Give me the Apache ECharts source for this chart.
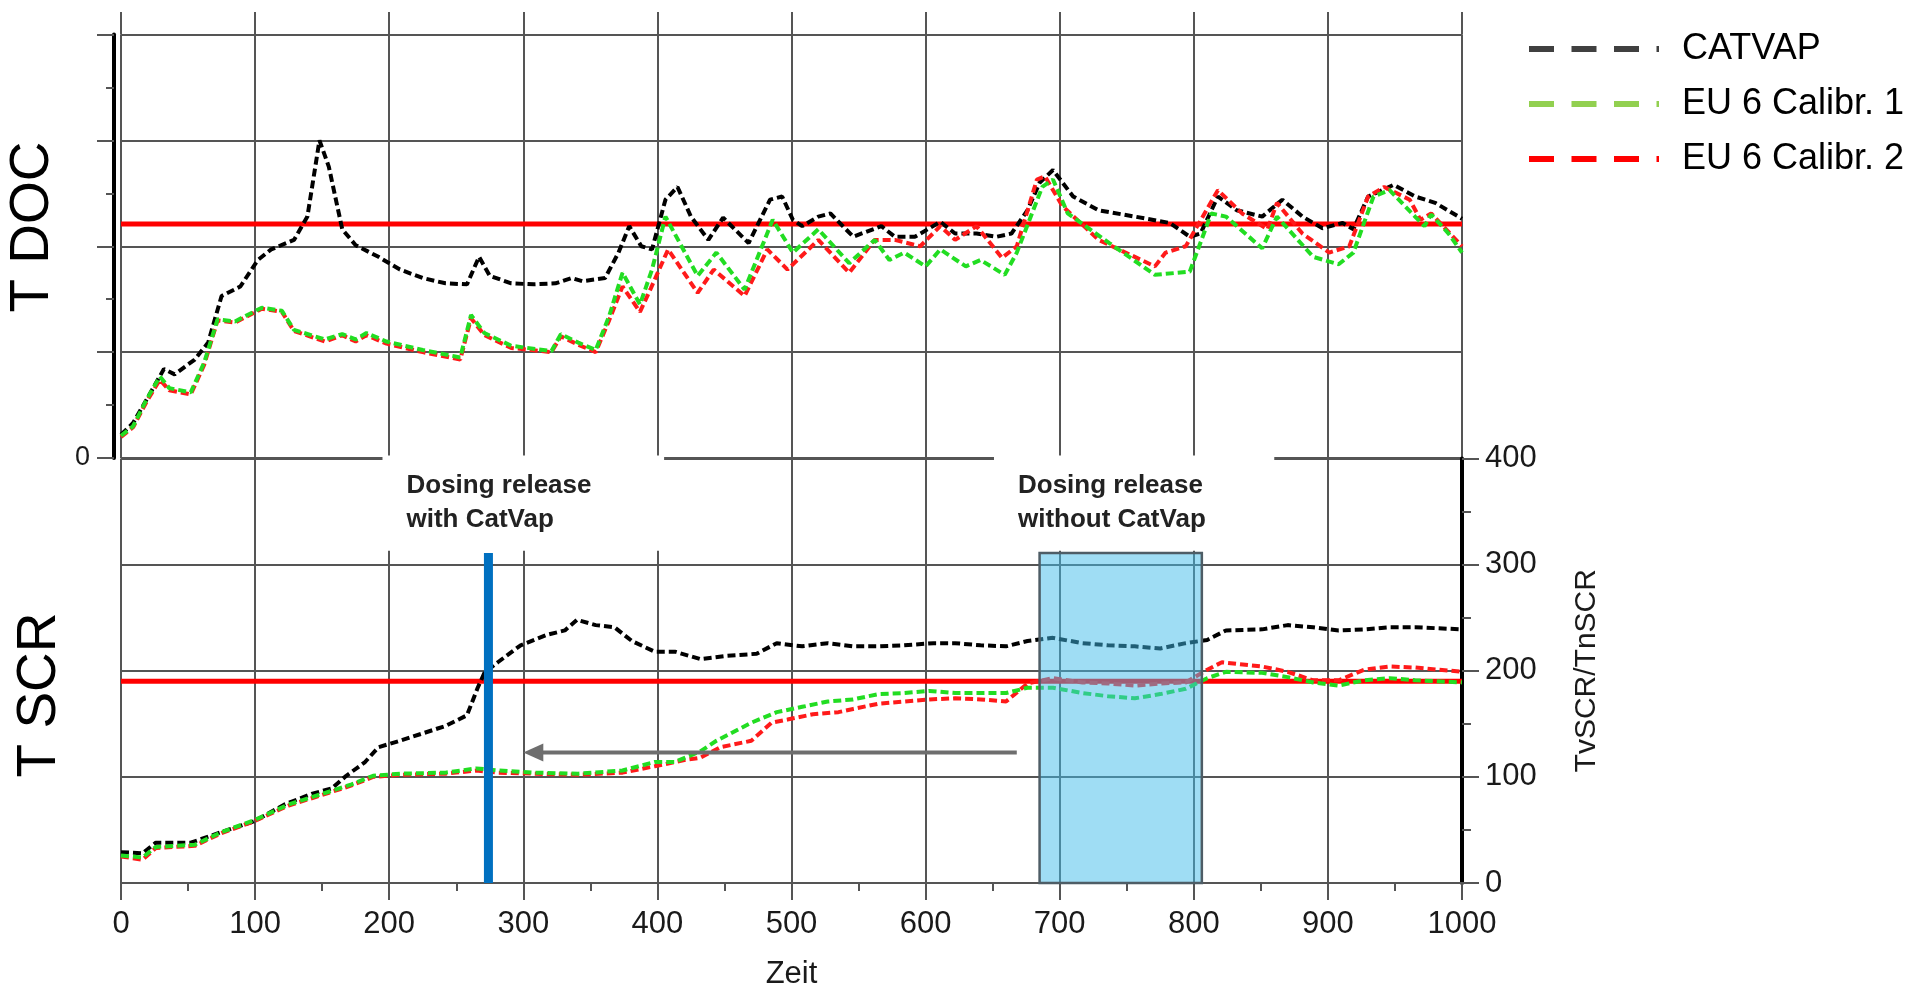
<!DOCTYPE html>
<html>
<head>
<meta charset="utf-8">
<title>T DOC / T SCR</title>
<script src="https://cdn.jsdelivr.net/npm/echarts@6.0.0/dist/echarts.min.js"></script>
<style>
html, body { margin: 0; padding: 0; background: #fff; }
#chart { width: 1931px; height: 994px; }
</style>
</head>
<body>
<div id="chart"></div>
<script>
// upper panel: T DOC, [Zeit, value]
var docCatvap = [[0,22],[9,33],[19,55],[32,84],[40,79],[55,93],[65,109],[75,153],[89,162],[102,187],[112,197],[129,206],[139,228],[148,300],[155,275],[165,216],[175,201],[192,190],[208,178],[225,170],[242,165],[258,164],[267,190],[275,172],[291,165],[308,164],[324,165],[336,170],[344,167],[361,170],[371,194],[379,219],[388,200],[396,197],[406,244],[415,256],[425,228],[438,206],[449,227],[468,203],[484,244],[493,247],[501,225],[508,219],[520,228],[529,231],[546,209],[567,219],[577,209],[592,209],[611,223],[622,212],[638,212],[653,209],[664,212],[676,234],[685,260],[695,272],[710,247],[729,234],[756,228],[782,222],[797,209],[805,212],[818,247],[832,234],[851,228],[866,244],[881,228],[896,217],[911,222],[919,216],[930,247],[949,258],[965,247],[980,241],[1000,226]];
var docCal1 = [[0,21],[9,30],[19,55],[29,77],[36,66],[52,62],[62,90],[72,131],[85,129],[105,142],[120,139],[129,121],[152,112],[165,117],[175,112],[183,118],[198,110],[225,102],[253,95],[261,135],[271,118],[291,106],[321,101],[328,117],[341,109],[354,102],[364,134],[374,175],[387,145],[396,178],[406,228],[430,172],[444,194],[465,159],[486,225],[501,194],[520,216],[543,184],[562,206],[573,187],[584,194],[600,181],[611,197],[630,181],[641,187],[659,173],[668,194],[687,256],[695,263],[706,231],[737,203],[771,173],[797,176],[813,231],[824,228],[851,198],[862,228],[889,190],[908,183],[919,194],[934,247],[946,253],[965,228],[972,219],[977,230],[990,212],[1000,194]];
var docCal2 = [[0,20],[9,29],[19,53],[29,74],[36,64],[52,60],[62,88],[72,130],[85,128],[105,141],[120,138],[129,120],[152,110],[165,116],[175,110],[183,116],[198,108],[225,100],[253,93],[261,132],[271,116],[291,104],[321,100],[328,115],[341,107],[354,100],[364,130],[374,162],[387,138],[395,160],[408,197],[430,156],[442,178],[465,153],[482,197],[497,178],[520,206],[543,175],[562,206],[577,206],[596,200],[611,219],[622,206],[638,219],[657,189],[668,200],[683,263],[689,266],[702,238],[729,206],[771,181],[779,194],[794,200],[818,253],[836,231],[855,216],[862,241],[881,212],[901,194],[916,200],[930,247],[942,256],[961,244],[969,225],[977,231],[1000,200]];

// lower panel: T SCR, TvSCR/TnSCR
var scrCatvap = [[0,29],[16,28],[26,38],[52,38],[75,48],[99,58],[122,74],[142,84],[157,89],[168,101],[182,114],[192,128],[208,134],[225,141],[242,148],[258,158],[266,184],[271,198],[281,208],[298,224],[318,234],[331,238],[340,248],[354,243],[368,241],[381,228],[398,218],[413,218],[432,211],[451,214],[474,216],[489,226],[508,223],[527,226],[546,223],[565,223],[584,224],[606,226],[622,226],[641,224],[660,223],[676,228],[695,231],[717,226],[736,224],[756,223],[775,221],[794,226],[810,229],[824,238],[851,239],[870,243],[889,241],[908,238],[927,239],[946,241],[965,241],[1000,239]];
var scrCal1 = [[0,26],[16,24],[26,34],[55,36],[75,48],[99,59],[125,74],[155,86],[172,93],[188,101],[208,103],[242,104],[265,108],[281,106],[308,104],[341,103],[374,106],[398,114],[413,114],[432,124],[444,134],[470,151],[489,161],[508,166],[527,171],[546,173],[565,178],[584,179],[603,181],[622,179],[641,179],[660,179],[676,184],[695,184],[717,179],[736,176],[756,174],[775,178],[794,183],[810,193],[824,199],[851,198],[870,194],[889,189],[908,186],[927,191],[946,193],[965,191],[1000,189]];
var scrCal2 = [[0,25],[16,22],[26,33],[55,35],[75,47],[99,58],[125,73],[155,85],[172,92],[188,100],[208,102],[242,103],[265,106],[281,104],[308,103],[341,102],[374,104],[398,110],[421,116],[432,118],[447,128],[470,134],[485,151],[497,154],[516,159],[535,161],[546,164],[565,169],[584,171],[603,173],[622,174],[641,173],[660,171],[676,188],[695,193],[717,189],[736,188],[756,186],[775,188],[794,189],[810,201],[821,208],[851,204],[870,199],[889,191],[908,191],[927,201],[946,204],[965,203],[1000,199]];

var docLimit = 221;
var scrLimit = 190;

// annotations, lower panel: [x, yFrom, yTo] / [x0, x1, yTop, yBottom] / [from, to, level]
var releaseLine = [[274, 0, 311]];
var releaseWindow = [[685, 806, 311, 0]];
var shiftArrow = [[668, 300, 123]];
var noteBoxes = [[195, 405, 400, 313], [651, 860, 400, 313]];
var noteTexts = ['Dosing release\nwith CatVap', 'Dosing release\nwithout CatVap'];

var seriesNames = ['CATVAP', 'EU 6 Calibr. 1', 'EU 6 Calibr. 2'];

var FONT = '"Liberation Sans", Arial, Helvetica, sans-serif';
var GRID_COLOR = '#555555';

var chart = echarts.init(document.getElementById('chart'));

function curve(name, data, color, idx, z) {
	return {
		name: name,
		type: 'line',
		xAxisIndex: idx,
		yAxisIndex: idx,
		data: data,
		symbol: 'none',
		showSymbol: false,
		silent: true,
		z: z,
		itemStyle: { color: color },
		lineStyle: { color: color, width: 4, type: [8, 4] }
	};
}

function limit(value, idx) {
	return {
		type: 'line',
		xAxisIndex: idx,
		yAxisIndex: idx,
		data: [[0, value], [1000, value]],
		symbol: 'none',
		silent: true,
		z: 1,
		lineStyle: { color: '#ff0000', width: 5 }
	};
}

function legendItem(name, color) {
	return {
		name: name,
		itemStyle: { opacity: 0, color: 'transparent', borderWidth: 0 },
		lineStyle: { color: color, width: 6, type: [25, 17.5] }
	};
}

function xAxisBase(idx) {
	return {
		type: 'value',
		gridIndex: idx,
		min: 0,
		max: 1000,
		interval: 100,
		axisLine: { show: false, onZero: false },
		axisTick: { show: false },
		axisLabel: { show: false },
		splitLine: { show: true, lineStyle: { color: GRID_COLOR, width: 2 } }
	};
}

var xAxes = [xAxisBase(0), xAxisBase(1), xAxisBase(2)];
xAxes[1].axisLine = { show: true, onZero: false, lineStyle: { color: GRID_COLOR, width: 2 } };
xAxes[1].axisTick = { show: true, length: 17, lineStyle: { color: GRID_COLOR, width: 2 } };
xAxes[1].minorTick = { show: true, splitNumber: 2, length: 8, lineStyle: { color: GRID_COLOR, width: 2 } };
xAxes[1].axisLabel = {
	show: true, fontFamily: FONT, fontSize: 31, color: '#1a1a1a', margin: 26,
	formatter: function(v) { return String(v); }
};
xAxes[1].name = 'Zeit';
xAxes[1].nameLocation = 'middle';
xAxes[1].nameGap = 76;
xAxes[1].nameTextStyle = { fontFamily: FONT, fontSize: 31, color: '#1a1a1a' };

var option = {
	animation: false,
	backgroundColor: '#ffffff',
	grid: [
		{ left: 121, width: 1341, top: 34.5, height: 423.5, outerBoundsMode: 'none' },
		{ left: 121, width: 1341, top: 458.5, height: 424.5, outerBoundsMode: 'none' },
		{ left: 121, width: 1341, top: 12, height: 22.5, outerBoundsMode: 'none' }
	],
	legend: {
		orient: 'vertical',
		left: 1521,
		top: 24,
		itemWidth: 130,
		itemHeight: 14,
		itemGap: 15,
		selectedMode: false,
		textStyle: { fontFamily: FONT, fontSize: 36, color: '#000', lineHeight: 40, padding: [0, 0, 0, 18] },
		data: [
			legendItem(seriesNames[0], '#404040'),
			legendItem(seriesNames[1], '#92d050'),
			legendItem(seriesNames[2], '#ff0000')
		]
	},
	xAxis: xAxes,
	yAxis: [
		{
			type: 'value',
			gridIndex: 0,
			position: 'left',
			offset: 7,
			min: 0,
			max: 400,
			interval: 100,
			axisLine: { show: true, onZero: false, lineStyle: { color: '#000', width: 4 } },
			axisTick: { show: true, length: 17, lineStyle: { color: GRID_COLOR, width: 2 } },
			minorTick: { show: true, splitNumber: 2, length: 8, lineStyle: { color: GRID_COLOR, width: 2 } },
			axisLabel: {
				fontFamily: FONT, fontSize: 27, color: '#1a1a1a', margin: 24,
				formatter: function(v) { return v === 0 ? '0' : ''; }
			},
			splitLine: { show: true, lineStyle: { color: GRID_COLOR, width: 2 } }
		},
		{
			type: 'value',
			gridIndex: 1,
			position: 'right',
			min: 0,
			max: 400,
			interval: 100,
			axisLine: { show: true, onZero: false, lineStyle: { color: '#000', width: 4 } },
			axisTick: { show: true, length: 17, lineStyle: { color: GRID_COLOR, width: 2 } },
			minorTick: { show: true, splitNumber: 2, length: 9, lineStyle: { color: GRID_COLOR, width: 2 } },
			axisLabel: { fontFamily: FONT, fontSize: 31, color: '#1a1a1a', margin: 23 },
			splitLine: { show: true, lineStyle: { color: GRID_COLOR, width: 2 } },
			name: 'TvSCR/TnSCR',
			nameLocation: 'middle',
			nameRotate: 90,
			nameGap: 110,
			nameTextStyle: { fontFamily: FONT, fontSize: 30, color: '#1a1a1a' }
		},
		{
			type: 'value',
			gridIndex: 2,
			min: 0,
			max: 1,
			show: false
		}
	],
	graphic: [
		{ type: 'text', x: 33, y: 227, rotation: Math.PI / 2, silent: true,
			style: { text: 'T DOC', font: '55px ' + FONT, fill: '#000', align: 'center', verticalAlign: 'middle' } },
		{ type: 'text', x: 40, y: 695, rotation: Math.PI / 2, silent: true,
			style: { text: 'T SCR', font: '55px ' + FONT, fill: '#000', align: 'center', verticalAlign: 'middle' } }
	],
	series: [
		limit(docLimit, 0),
		limit(scrLimit, 1),
		curve(seriesNames[0], docCatvap, '#000000', 0, 2),
		curve(seriesNames[2], docCal2, '#ff1a1a', 0, 3),
		curve(seriesNames[1], docCal1, '#22dd22', 0, 4),
		curve(seriesNames[0], scrCatvap, '#000000', 1, 2),
		curve(seriesNames[2], scrCal2, '#ff1a1a', 1, 3),
		curve(seriesNames[1], scrCal1, '#22dd22', 1, 4),
		{
			// white boxes behind the notes
			type: 'custom',
			xAxisIndex: 1,
			yAxisIndex: 1,
			silent: true,
			clip: false,
			z: 6,
			data: noteBoxes,
			renderItem: function(params, api) {
				var p0 = api.coord([api.value(0), api.value(2)]);
				var p1 = api.coord([api.value(1), api.value(3)]);
				return {
					type: 'group',
					children: [{
						type: 'rect',
						shape: { x: p0[0], y: p0[1] - 3, width: p1[0] - p0[0], height: p1[1] - p0[1] + 3 },
						style: { fill: '#ffffff' }
					}, {
						type: 'text',
						style: {
							text: noteTexts[params.dataIndex],
							x: p0[0] + 24,
							y: p0[1] + 10,
							font: 'bold 26px ' + FONT,
							lineHeight: 34,
							fill: '#222',
							align: 'left',
							verticalAlign: 'top'
						}
					}]
				};
			}
		},
		{
			type: 'custom',
			xAxisIndex: 1,
			yAxisIndex: 1,
			silent: true,
			z: 7,
			data: releaseWindow,
			renderItem: function(params, api) {
				var p0 = api.coord([api.value(0), api.value(2)]);
				var p1 = api.coord([api.value(1), api.value(3)]);
				return {
					type: 'rect',
					shape: { x: p0[0], y: p0[1], width: p1[0] - p0[0], height: p1[1] - p0[1] },
					style: { fill: 'rgba(64,188,234,0.5)', stroke: '#4e5d66', lineWidth: 2.5 }
				};
			}
		},
		{
			type: 'custom',
			xAxisIndex: 1,
			yAxisIndex: 1,
			silent: true,
			z: 7,
			data: releaseLine,
			renderItem: function(params, api) {
				var p0 = api.coord([api.value(0), api.value(1)]);
				var p1 = api.coord([api.value(0), api.value(2)]);
				return {
					type: 'line',
					shape: { x1: p0[0], y1: p0[1], x2: p1[0], y2: p1[1] },
					style: { stroke: '#0070c0', lineWidth: 9 }
				};
			}
		},
		{
			type: 'custom',
			xAxisIndex: 1,
			yAxisIndex: 1,
			silent: true,
			z: 7,
			data: shiftArrow,
			renderItem: function(params, api) {
				var from = api.coord([api.value(0), api.value(2)]);
				var to = api.coord([api.value(1), api.value(2)]);
				var head = 20;
				return {
					type: 'group',
					children: [{
						type: 'line',
						shape: { x1: from[0], y1: from[1], x2: to[0] + head - 2, y2: to[1] },
						style: { stroke: '#6e6e6e', lineWidth: 4 }
					}, {
						type: 'polygon',
						shape: { points: [[to[0], to[1]], [to[0] + head, to[1] - 9], [to[0] + head, to[1] + 9]] },
						style: { fill: '#6e6e6e' }
					}]
				};
			}
		}
	]
};

chart.setOption(option);
</script>
</body>
</html>
